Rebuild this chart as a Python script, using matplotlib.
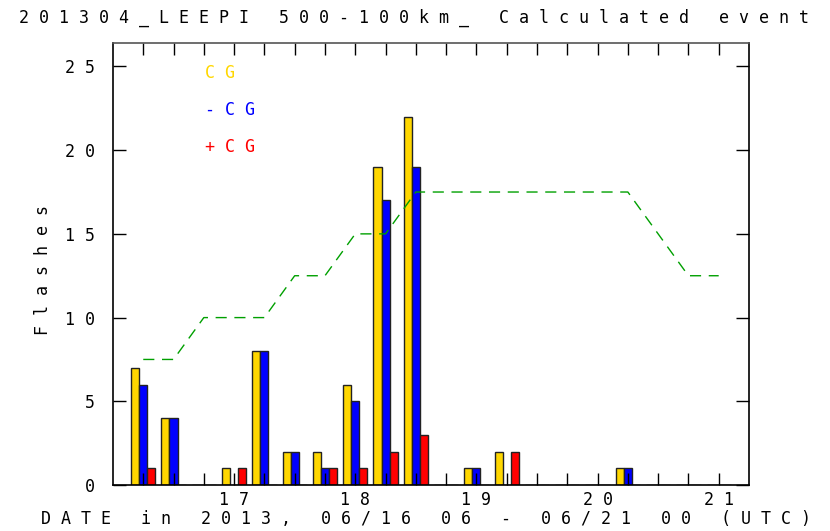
import numpy as np
import matplotlib
matplotlib.use("Agg")
import matplotlib.pyplot as plt

# 6-hourly bins, hours counted from 06/16 00 UTC
hours = [6, 12, 18, 24, 30, 36, 42, 48, 54, 60, 66, 72, 78, 84, 90, 96, 102, 108, 114, 120]
cg = [7, 4, 0, 1, 8, 2, 2, 6, 19, 22, 0, 1, 2, 0, 0, 0, 1, 0, 0, 0]
neg_cg = [6, 4, 0, 0, 8, 2, 1, 5, 17, 19, 0, 1, 0, 0, 0, 0, 1, 0, 0, 0]
pos_cg = [1, 0, 0, 1, 0, 0, 1, 1, 2, 3, 0, 0, 2, 0, 0, 0, 0, 0, 0, 0]
event_line = [7.5, 7.5, 10, 10, 10, 12.5, 12.5, 15, 15, 17.5,
              17.5, 17.5, 17.5, 17.5, 17.5, 17.5, 17.5, 15, 12.5, 12.5]

day_hours = [24, 48, 72, 96, 120]
day_labels = ["17", "18", "19", "20", "21"]
y_ticks = [0, 5, 10, 15, 20, 25]

title = "201304_LEEPI 500-100km_ Calculated event"
xlabel = "DATE in 2013, 06/16 06 - 06/21 00 (UTC)"
ylabel = "Flashes"
legend_names = ["CG", "-CG", "+CG"]
legend_colors = ["#FFD700", "#0000FF", "#FF0000"]

MONO = "DejaVu Sans Mono"
FS = 12
W, H = 830, 531


def spaced(s):
    # the original plot uses letter-spaced text
    return " ".join(s)


def px(x, y):
    # pixel position (from top-left) -> figure fraction
    return x / W, 1 - y / H


fig = plt.figure(figsize=(W / 100, H / 100), dpi=100)
ax = fig.add_axes([0.1361, 0.0866, 0.7663, 0.8324])

h = np.array(hours, dtype=float)
w = 1.6
ax.bar(h - w, cg, width=w, color=legend_colors[0], edgecolor="#222222", linewidth=1)
ax.bar(h, neg_cg, width=w, color=legend_colors[1], edgecolor="#222222", linewidth=1)
ax.bar(h + w, pos_cg, width=w, color=legend_colors[2], edgecolor="#222222", linewidth=1)

ax.plot(hours, event_line, color="#00A000", linewidth=1.0,
        linestyle=(0, (8, 5.5)), zorder=3)

ax.set_xlim(0, 126)
ax.set_ylim(0, 26.4)

ax.set_xticks(hours)
ax.set_xticklabels([spaced(day_labels[day_hours.index(x)]) if x in day_hours else ""
                    for x in hours], family=MONO, fontsize=FS)
ax.set_yticks(y_ticks)
ax.set_yticklabels([spaced(str(v)) for v in y_ticks], family=MONO, fontsize=FS)

ax.tick_params(axis="x", direction="in", length=8.5, width=1, top=True, pad=4)
ax.tick_params(axis="y", direction="in", length=9.5, width=1, right=True, pad=13)
for sp in ax.spines.values():
    sp.set_linewidth(1.2)
    sp.set_color("black")
ax.spines["top"].set_color("#555555")

# legend as coloured text
for i, (name, col) in enumerate(zip(legend_names, legend_colors)):
    fig.text(*px(205, 73 + 37 * i), spaced(name), color=col, family=MONO,
             fontsize=FS, va="center", ha="left")

fig.text(*px(19, 18), spaced(title), family=MONO, fontsize=FS,
         ha="left", va="center")
fig.text(*px(41, 519), spaced(xlabel), family=MONO, fontsize=FS,
         ha="left", va="center")
fig.text(*px(43, 270), spaced(ylabel), family=MONO, fontsize=FS,
         ha="center", va="center", rotation=90)

fig.savefig("out.png", dpi=100)
